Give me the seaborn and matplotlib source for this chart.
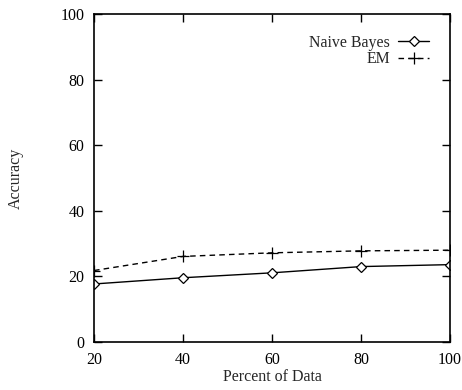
import numpy as np
import pandas as pd
import matplotlib
matplotlib.use("Agg")
import matplotlib.pyplot as plt
import seaborn as sns

# data
percent = [20, 40, 60, 80, 100]
naive_bayes = [17.7, 19.6, 21.1, 23.0, 23.6]
em = [21.8, 26.1, 27.2, 27.8, 28.0]

sns.set_theme(style="ticks")
plt.rcParams['font.family'] = ['Liberation Serif', 'DejaVu Serif']

fig = plt.figure(figsize=(4.62, 3.9), dpi=100)
ax = fig.add_axes([0.2035, 0.123, 0.7705, 0.841])

sns.lineplot(x=percent, y=naive_bayes, ax=ax, color='black', linewidth=1.0,
             marker='D', markersize=5, markerfacecolor='white',
             markeredgecolor='black', markeredgewidth=0.9, label='Naive Bayes')
sns.lineplot(x=percent, y=em, ax=ax, color='black', linewidth=1.0,
             linestyle=(0, (4, 3)), marker='+', markersize=9,
             markeredgecolor='black', markeredgewidth=0.9, label='EM')

ax.set_xlim(20, 100)
ax.set_ylim(0, 100)
ax.set_xticks([20, 40, 60, 80, 100])
ax.set_yticks([0, 20, 40, 60, 80, 100])
ax.tick_params(direction='in', length=6, width=1, top=True, right=True,
               labelsize=11.5, colors='black', pad=7)
for s in ax.spines.values():
    s.set_visible(True)
    s.set_linewidth(1.2)
    s.set_color('black')

ax.set_xlabel('Percent of Data', fontsize=11.5, labelpad=1)
ax.set_ylabel('Accuracy', fontsize=11.5, labelpad=26)

leg = ax.legend(loc='upper right', markerfirst=False, frameon=False,
                fontsize=11.4, handlelength=2.0, handletextpad=0.5,
                borderaxespad=0.9, labelspacing=0.05)

fig.savefig('out.png', dpi=100)
